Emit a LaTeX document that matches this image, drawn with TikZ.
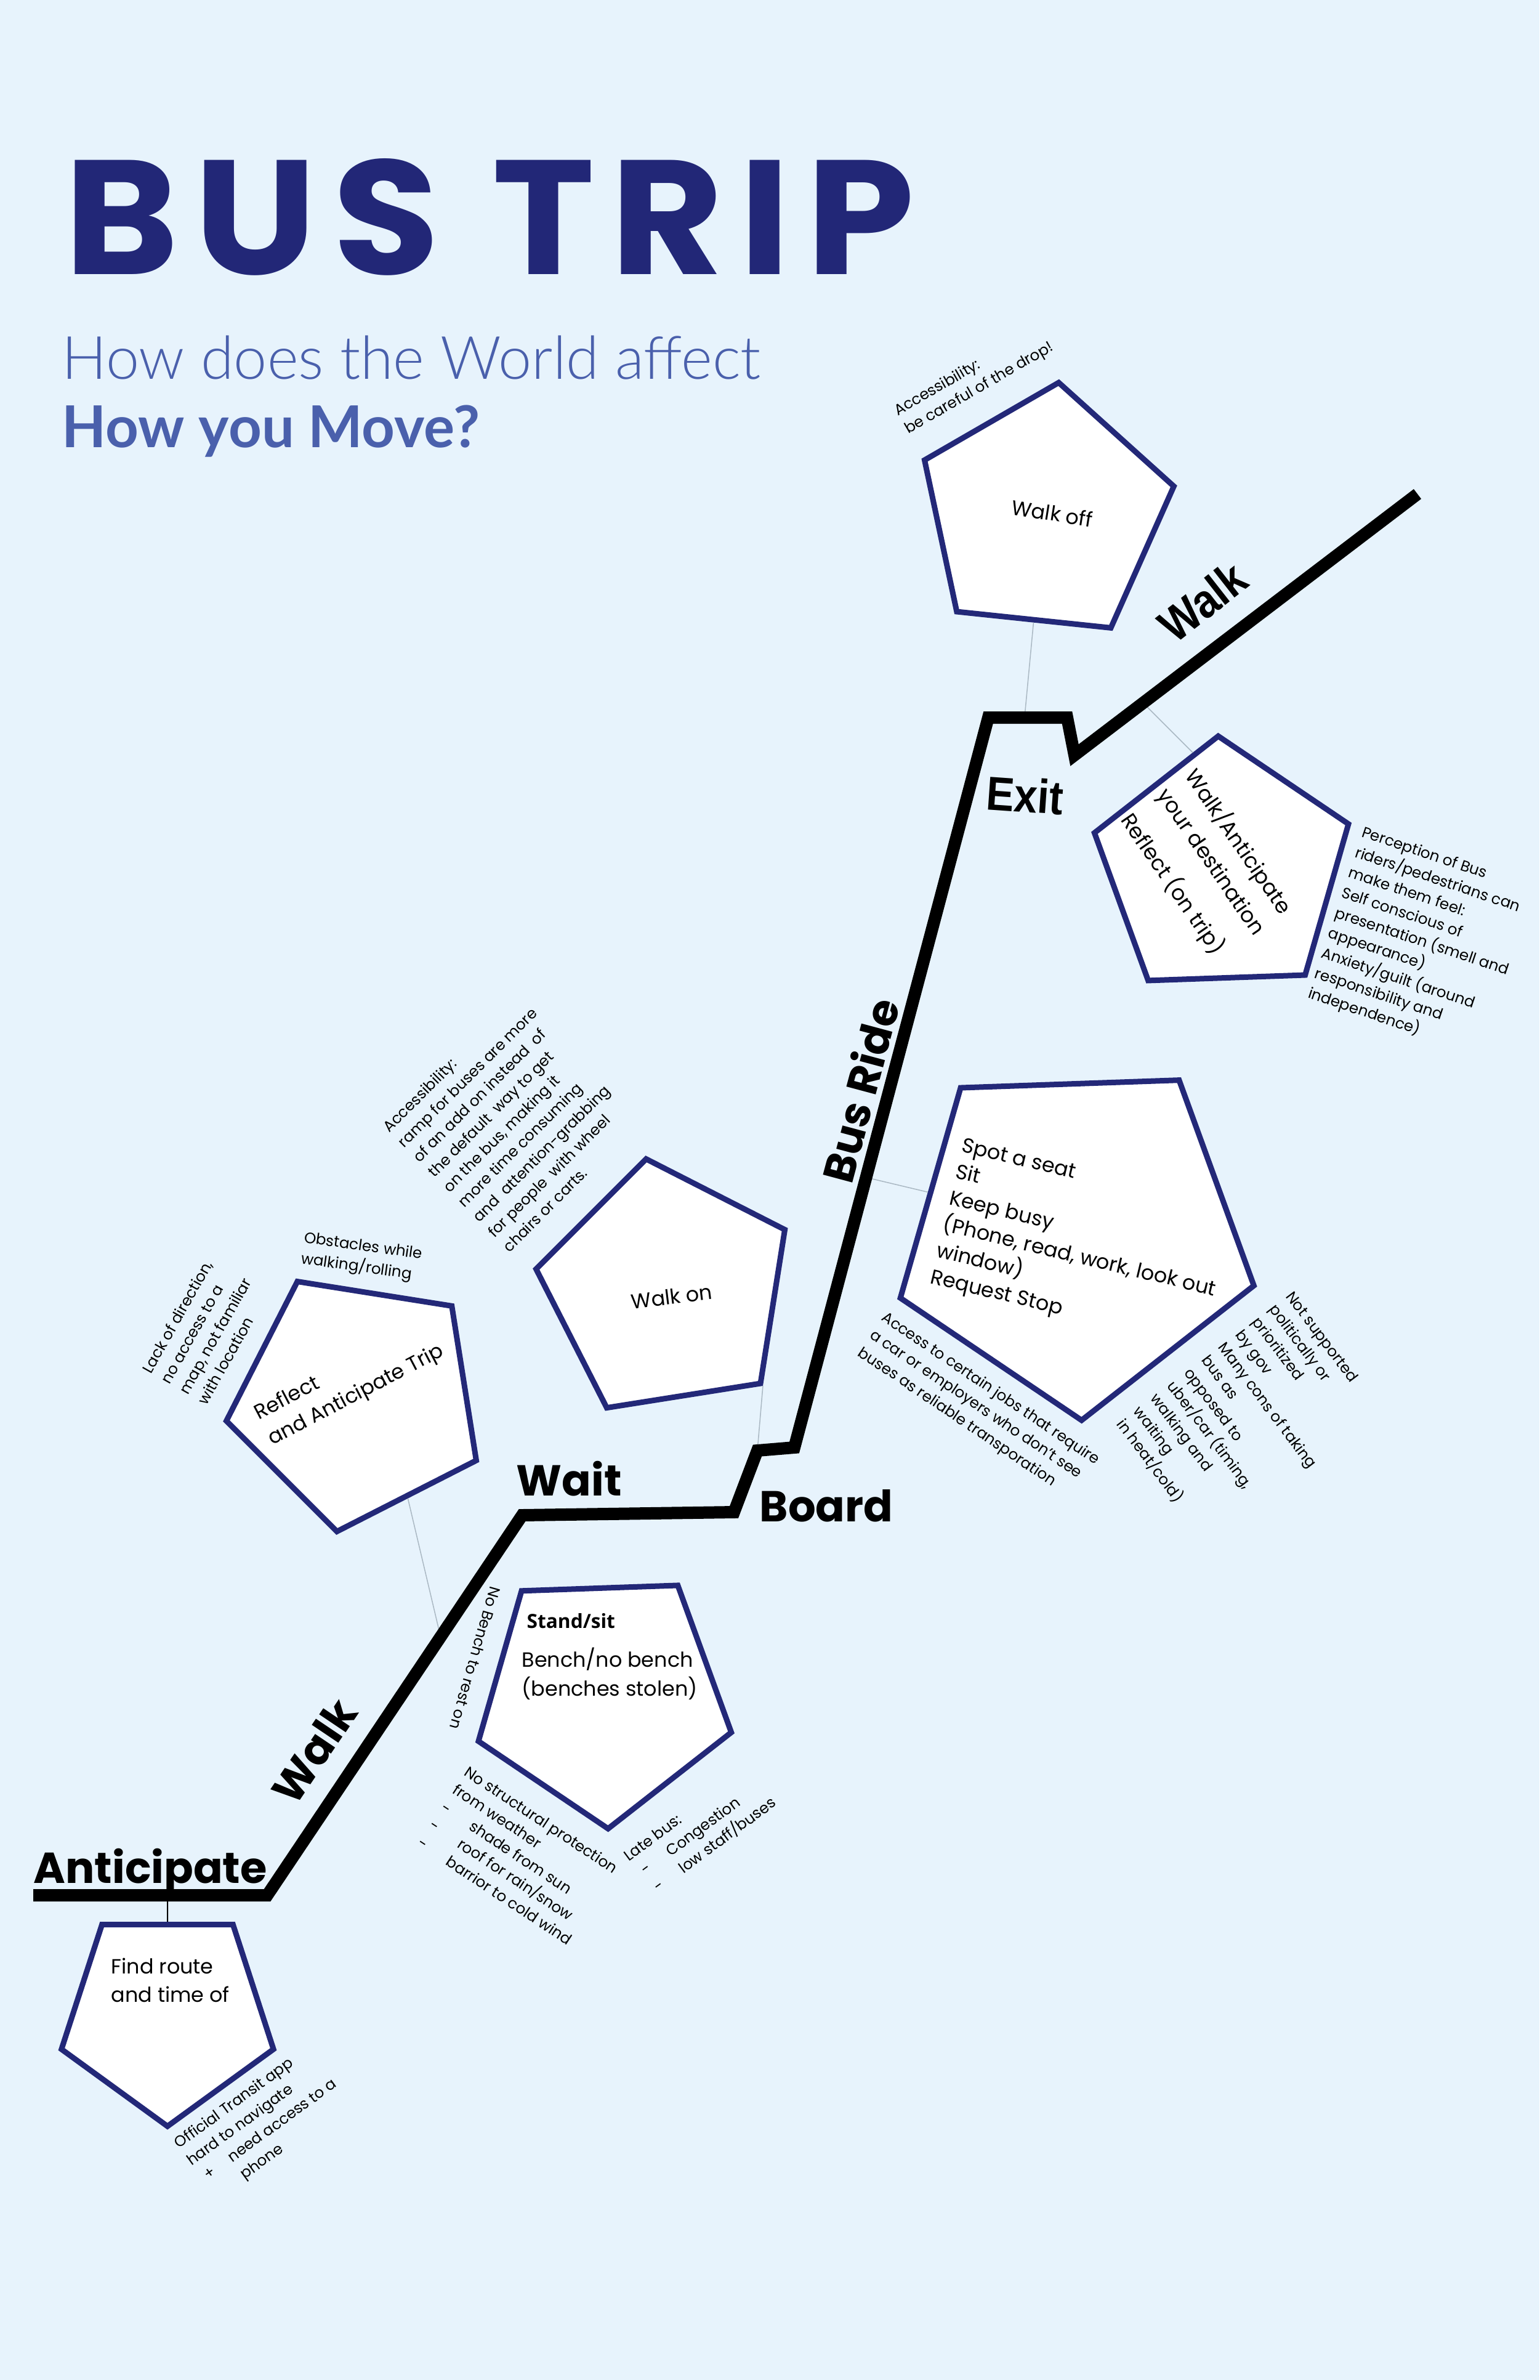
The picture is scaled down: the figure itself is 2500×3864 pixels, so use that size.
\documentclass[tikz,border=0pt]{standalone}
\usepackage{graphicx}
\usepackage{fontspec}
\setmainfont{Poppins}
\newfontfamily\titlefont{Poppins}[LetterSpace=9]
\newfontfamily\subfont{Lato}[UprightFont=* Light, BoldFont=* Bold]
\newfontfamily\condfont{Liberation Sans}
\newfontfamily\standfont{Open Sans}
\usepackage{tikz}
\usetikzlibrary{shapes.geometric,calc}

\definecolor{paper}{HTML}{E7F3FC}
\definecolor{navy}{HTML}{222777}
\definecolor{subblue}{HTML}{4A60AC}
\definecolor{penline}{HTML}{232878}
\definecolor{linkgray}{HTML}{AAB8C3}

\begin{document}
\begin{tikzpicture}[x=0.1mm, y=-0.1mm,
   pent/.style={regular polygon, regular polygon sides=5, draw=penline,
                line width=0.9mm, fill=white, inner sep=0pt},
   inside/.style={font=\fontsize{9.5}{13.3}\selectfont, align=left, inner sep=0pt},
   note/.style={font=\fontsize{7}{9.8}\selectfont, align=left, inner sep=0pt, anchor=west},
   stage/.style={font=\fontsize{20}{24}\selectfont\bfseries, inner sep=0pt},
   cond/.style={font=\fontsize{22}{26}\selectfont\condfont\bfseries, inner sep=0pt},
   route/.style={line width=2mm, line join=miter},
   link/.style={draw=linkgray, line width=0.15mm}]
  \useasboundingbox (0,0) rectangle (2500,3864);
  \fill[paper] (0,0) rectangle (2500,3864);

  \node[anchor=south west, inner sep=0pt, text=navy] (title) at (104,448)
    {\resizebox{138mm}{18.8mm}{\titlefont\bfseries BUS TRIP}};
  \node[anchor=base west, inner sep=0pt, text=subblue,
        font=\fontsize{27.6}{32}\selectfont\subfont] (sub1) at (100,615) {How does the World affect};
  \node[anchor=base west, inner sep=0pt, text=subblue,
        font=\fontsize{26.7}{32}\selectfont\subfont\bfseries] (sub2) at (100,726) {How you Move?};

  \coordinate (v1)  at (54,3077);
  \coordinate (v2)  at (434,3077);
  \coordinate (v3)  at (848,2460);
  \coordinate (v4)  at (1192,2455);
  \coordinate (v5)  at (1230,2355);
  \coordinate (v6)  at (1290,2350);
  \coordinate (v7)  at (1605,1165);
  \coordinate (v8)  at (1733,1165);
  \coordinate (v9)  at (1745,1226);
  \coordinate (v10) at (2302,802);
  \coordinate (fj) at ($(v1)!0.574!(v2)$);
  \coordinate (wj) at ($(v2)!0.68!(v3)$);
  \coordinate (rj) at ($(v6)!0.37!(v7)$);
  \coordinate (oj) at ($(v7)!0.46!(v8)$);
  \coordinate (dj) at ($(v9)!0.2!(v10)$);

  \node[pent, minimum size=36.2mm, shape border rotate=36] (find)    at (272,3271) {};
  \node[pent, minimum size=43.2mm, shape border rotate=27] (reflect) at (581,2273) {};
  \node[pent, minimum size=43mm,   shape border rotate=9]  (walkon)  at (1083,2094) {};
  \node[pent, minimum size=60.4mm, shape border rotate=38] (ride)    at (1746,2004) {};
  \node[pent, minimum size=43.4mm, shape border rotate=2]  (dest)    at (1986,1412) {};
  \node[pent, minimum size=42.8mm, shape border rotate=-6] (walkoff) at (1697,834) {};
  \node[pent, minimum size=43.2mm, shape border rotate=38] (stand)   at (980,2753) {};

  \draw[line width=0.2mm] (fj) -- (find.side 5);
  \draw[link] (wj) -- (reflect.side 3);
  \draw[link] (v5) -- (walkon.corner 4);
  \draw[link] (rj) -- (ride.side 1);
  \draw[link] (oj) -- (walkoff.side 3);
  \draw[link] (dj) -- ($(dest.corner 1)!0.2!(dest.corner 2)$);

  \draw[route] (v1) -- (v2) -- (v3) -- (v4) -- (v5) -- (v6) -- (v7) -- (v8) -- (v9) -- (v10);

  \node[stage, anchor=base west] (anticipate) at (54,3057) {Anticipate};
  \node[stage, rotate=56] (walkA) at (510,2843) {Walk};
  \node[stage, anchor=base west] (wait) at (838,2428) {Wait};
  \node[stage, anchor=base west] (board) at (1233,2470) {Board};
  \node[stage, rotate=75] (busride) at (1396,1770) {Bus Ride};
  \node[cond, anchor=base west, rotate=-4] (exit) at (1600,1314) {\scalebox{0.88}[1]{Exit}};
  \node[cond, rotate=38] (walkB) at (1953,977) {\scalebox{0.88}[1]{Walk}};

  \node[inside, anchor=west] (findtxt) at (180,3215) {Find route\\and time of};
  \node[inside, anchor=west, rotate=27.7] (reflecttxt) at (427,2319) {Reflect\\and Anticipate Trip};
  \node[inside, rotate=7] (walkontxt) at (1091,2105) {Walk on};
  \node[inside, anchor=west, rotate=-13.5, font=\fontsize{9.5}{12.5}\selectfont] (ridetxt) at (1536,1969)
    {Spot a seat\\Sit\\Keep busy\\(Phone, read, work, look out\\window)\\Request Stop};
  \node[inside, rotate=-55.5, font=\fontsize{9.8}{15.5}\selectfont] (desttxt) at (1960,1404)
    {Walk/Anticipate\\your destination\\[5pt]Reflect (on trip)};
  \node[inside, rotate=-9] (walkofftxt) at (1709,833) {Walk off};
  \node[anchor=base west, inner sep=0pt, font=\fontsize{9}{11}\selectfont\standfont\bfseries] (standlbl)
    at (855,2643) {Stand/sit};
  \node[inside, anchor=west] (standtxt) at (847,2717) {Bench/no bench\\(benches stolen)};

  \node[note, rotate=36] (findnote) at (317,3526)
    {Official Transit app\\hard to navigate\\\makebox[5.7mm][l]{\hspace*{0.9mm}+}need access to a\\\hspace*{5.7mm}phone};
  \node[note, rotate=60.6] (dirnote) at (282,2253)
    {Lack of direction,\\no access to a\\map, not familiar\\with location};
  \node[note, rotate=-8] (obstnote) at (491,2028) {Obstacles while\\walking/rolling};
  \node[note, rotate=45] (rampnote) at (723,1931)
    {Accessibility:\\ramp for buses are more\\of an add on instead \ of\\the default \ way to get\\on the bus, making it\\more time consuming\\and \ attention-grabbing\\for people \ with wheel\\chairs or carts.};
  \node[note, rotate=-34] (jobsnote) at (1414,2166)
    {Access to certain jobs that require\\a car or employers who don’t see\\buses as reliable transporation};
  \node[note, rotate=-53] (govnote) at (1955,2204)
    {Not supported\\politically or\\prioritized\\by gov\\Many cons of taking\\bus as\\opposed to\\uber/car (timing,\\walking and\\waiting\\in heat/cold)};
  \node[note, rotate=-18.5] (feelnote) at (2168,1483)
    {Perception of Bus\\riders/pedestrians can\\make them feel:\\Self conscious of\\presentation (smell and\\appearance)\\Anxiety/guilt (around\\responsibility and\\independence)};
  \node[note, rotate=30] (dropnote) at (1463,685) {Accessibility:\\be careful of the drop!};
  \node[note, anchor=center, rotate=-106] (benchnote) at (772,2692) {No Bench to rest on};
  \node[note, rotate=-33.5] (shelternote) at (719,2931)
    {No structural protection\\from weather\\\makebox[5.5mm][l]{-}shade from sun\\\makebox[5.5mm][l]{-}roof for rain/snow\\\makebox[5.5mm][l]{-}barrior to cold wind};
  \node[note, rotate=36.5] (latenote) at (1037,3045)
    {Late bus:\\\hspace*{0.9mm}\makebox[5.1mm][l]{-}Congestion\\\hspace*{0.9mm}\makebox[5.1mm][l]{-}low staff/buses};
\end{tikzpicture}
\end{document}
